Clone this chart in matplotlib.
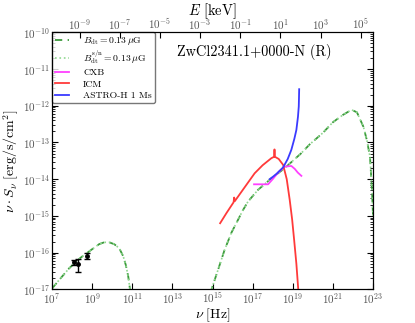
import matplotlib
matplotlib.use('Agg')
import matplotlib.pyplot as plt
import numpy as np

plt.rcParams['mathtext.fontset'] = 'cm'
plt.rcParams['font.family'] = 'serif'
plt.rcParams['font.serif'] = ['cmr10']
plt.rcParams['axes.formatter.use_mathtext'] = True

h_kev = 4.135667e-18  # keV s

# synchrotron part of the model (log nu, log nuS)
sync_lognu = [7.0, 7.35, 7.85, 8.4, 9.02, 9.35, 9.6, 9.85, 10.1, 10.35, 10.55, 10.68, 10.8, 10.88, 10.92]
sync_logS = [-16.98, -16.75, -16.43, -16.15, -15.9, -15.77, -15.72, -15.72, -15.77, -15.88, -16.1, -16.34, -16.65, -16.97, -17.2]

# inverse compton part
ic_lognu = [14.9, 14.97, 15.3, 15.6, 15.95, 16.27, 16.5, 16.77, 17.27, 17.93, 18.6, 19.43, 19.85, 20.5, 21.0,
            21.5, 21.93, 22.2, 22.52, 22.7, 22.85, 22.95, 23.0]
ic_logS = [-17.1, -16.97, -16.43, -15.93, -15.45, -15.11, -14.86, -14.61, -14.29, -13.98, -13.70, -13.29, -13.05,
           -12.74, -12.45, -12.25, -12.11, -12.18, -12.57, -12.95, -13.39, -14.3, -15.0]

# ICM thermal spectrum
icm_lognu = [15.38, 15.7, 16.05, 16.08, 16.11, 16.5, 17.1, 17.5, 17.93, 18.07, 18.09, 18.11, 18.3, 18.52,
             18.7, 18.85, 18.97, 19.07, 19.18, 19.27, 19.3]
icm_logS = [-15.2, -14.92, -14.63, -14.5, -14.6, -14.3, -13.84, -13.62, -13.43, -13.39, -13.19, -13.39, -13.45,
            -13.61, -14.0, -14.57, -15.1, -15.66, -16.3, -16.97, -17.2]

# cosmic X-ray background
cxb_lognu = [17.07, 17.77, 18.0, 18.3, 18.6, 18.93, 19.1, 19.25, 19.43]
cxb_logS = [-14.14, -14.14, -14.0, -13.8, -13.66, -13.64, -13.72, -13.82, -13.91]

# ASTRO-H sensitivity
ah_lognu = [17.85, 18.0, 18.2, 18.52, 18.75, 18.93, 19.08, 19.18, 19.26, 19.3, 19.31, 19.32]
ah_logS = [-14.0, -13.94, -13.85, -13.68, -13.45, -13.2, -12.9, -12.66, -12.3, -12.02, -11.8, -11.55]

# radio data
obs_nu = [1.26e8, 2.0e8, 5.4e8]
obs_S = [5.6e-17, 4.8e-17, 8.3e-17]
obs_lo = [1.0e-17, 1.8e-17, 1.4e-17]
obs_hi = [0.8e-17, 2.0e-17, 1.7e-17]

fig = plt.figure(figsize=(4.15, 3.23), dpi=100)
ax = fig.add_axes([0.1253, 0.1043, 0.7735, 0.7957])

green_d = '#3c9a3c'
green_l = '#90d890'

for lognu, logS in [(sync_lognu, sync_logS), (ic_lognu, ic_logS)]:
    nu = 10**np.array(lognu)
    S = 10**np.array(logS)
    ax.plot(nu, S, '--', color=green_d, lw=1.3, dashes=(4, 3))
    ax.plot(nu, S, ':', color=green_l, lw=1.2)

ax.plot([], [], '--', color=green_d, lw=1.3, dashes=(4, 3), label=r'$B_{\rm dt}=0.13\,\mu{\rm G}$')
ax.plot([], [], ':', color=green_l, lw=1.2, label=r'$B_{\rm dt}^{\rm s/n}=0.13\,\mu{\rm G}$')
ax.plot(10**np.array(cxb_lognu), 10**np.array(cxb_logS), color='#ff40ff', lw=1.3, label='CXB')
ax.plot(10**np.array(icm_lognu), 10**np.array(icm_logS), color='#ff3a3a', lw=1.3, label='ICM')
ax.plot(10**np.array(ah_lognu), 10**np.array(ah_logS), color='#3a3aff', lw=1.3, label='ASTRO-H 1 Ms')

ax.errorbar(obs_nu, obs_S, yerr=[obs_lo, obs_hi], fmt='o', color='k', ms=2.5, capsize=2, elinewidth=1, capthick=1)

ax.set_xscale('log')
ax.set_yscale('log')
ax.set_xlim(1e7, 1e23)
ax.set_ylim(1e-17, 1e-10)
ax.set_xticks([10.0**k for k in range(7, 24, 2)])
ax.set_yticks([10.0**k for k in range(-17, -9)])
ax.tick_params(which='both', direction='in', right=True, labelsize=8, labelcolor='#555555', pad=1.5)
ax.tick_params(which='major', length=4)
ax.tick_params(which='minor', length=2)
ax.set_xlabel(r'$\nu\ [\mathrm{Hz}]$', fontsize=10, labelpad=0)
ax.set_ylabel(r'$\nu\cdot S_{\nu}\ [\mathrm{erg/s/cm^2}]$', fontsize=10, labelpad=1)

ax2 = ax.twiny()
ax2.set_xscale('log')
ax2.set_xlim(1e7 * h_kev, 1e23 * h_kev)
ax2.set_xticks([10.0**k for k in range(-9, 6, 2)])
ax2.tick_params(which='both', direction='in', labelsize=8, labelcolor='#555555', pad=0.5)
ax2.tick_params(which='major', length=4)
ax2.tick_params(which='minor', length=2)
ax2.set_xlabel(r'$E\ [\mathrm{keV}]$', fontsize=10.5, labelpad=1)

ax.text(0.63, 0.925, 'ZwCl2341.1+0000-N (R)', transform=ax.transAxes, ha='center', va='center', fontsize=10.3)

leg = ax.legend(loc='upper left', fontsize=7, handlelength=1.4, handletextpad=1.5, borderaxespad=0.0,
                fancybox=True, labelspacing=0.25, framealpha=0.8, edgecolor='#555555', borderpad=0.3)

fig.savefig('out.png', dpi=100)
